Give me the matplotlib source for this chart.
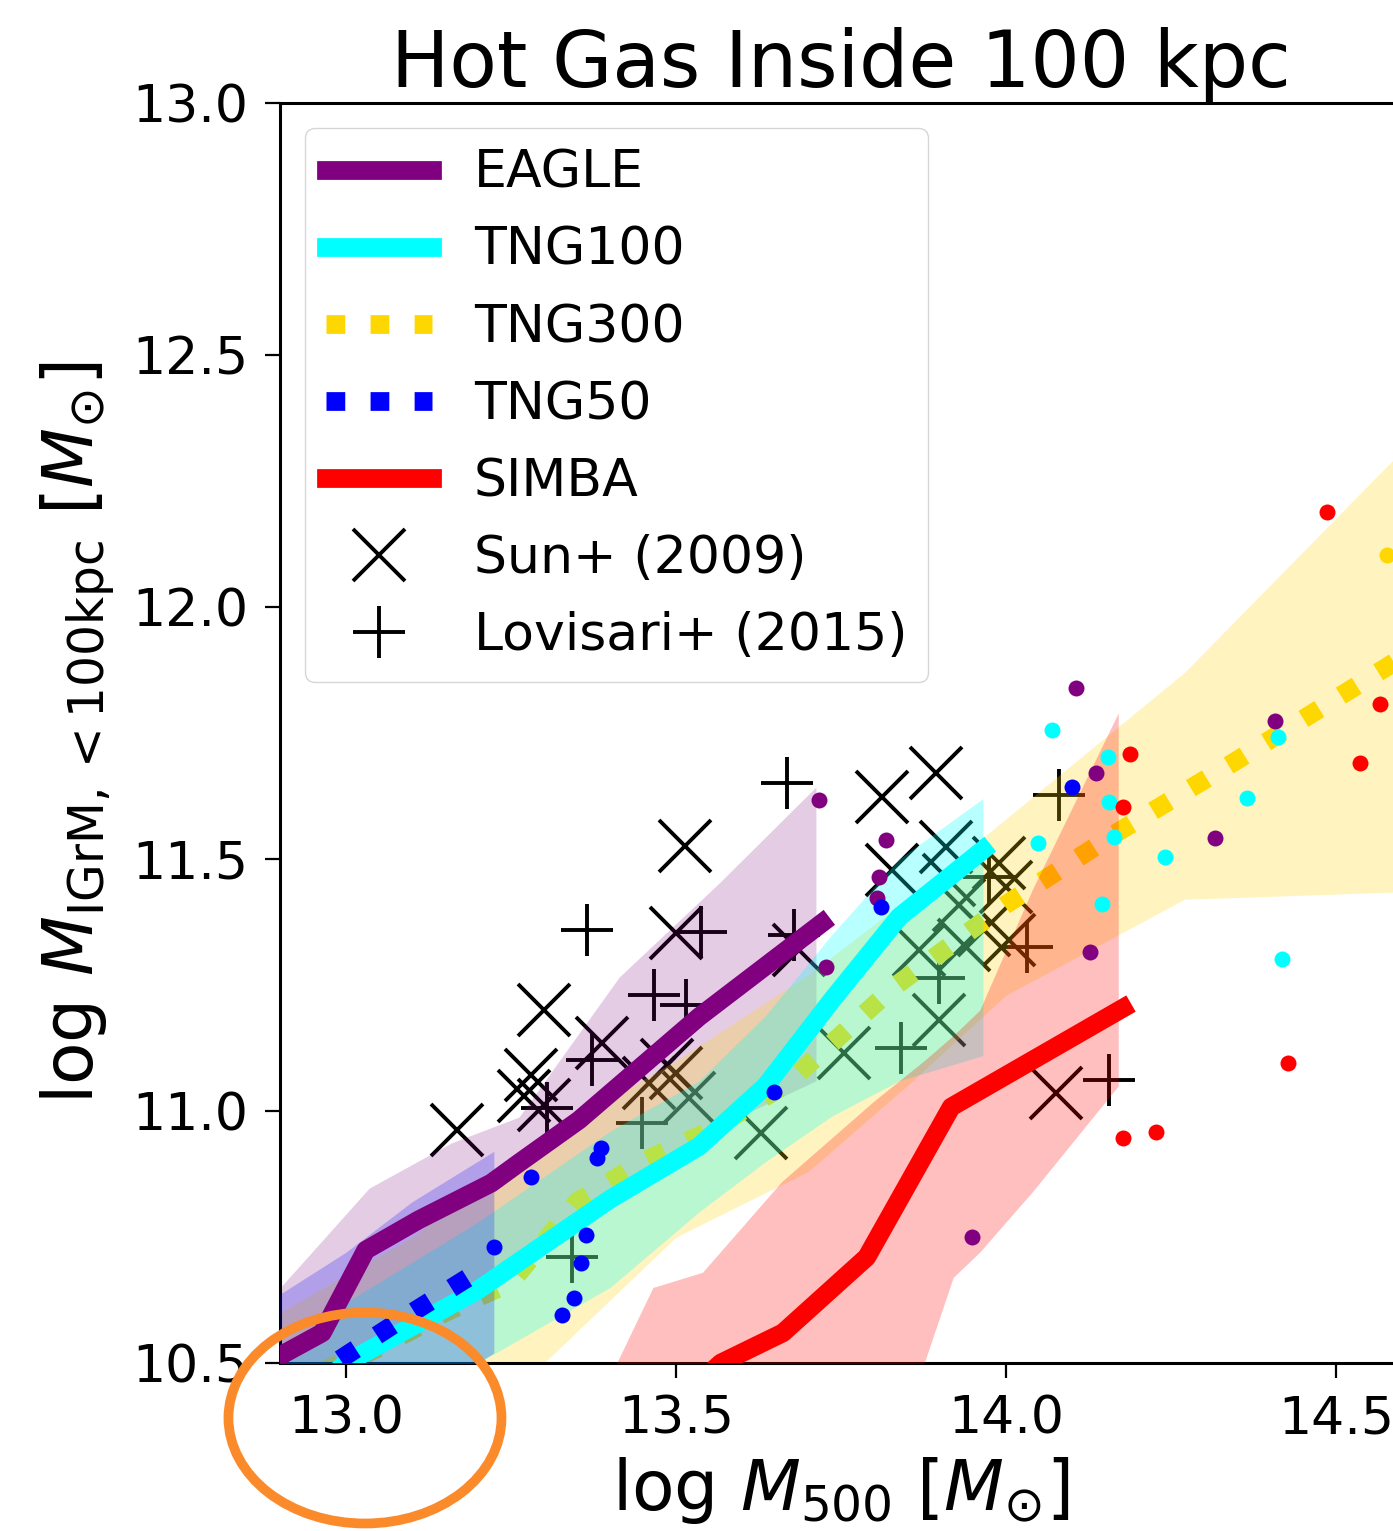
import matplotlib
matplotlib.use("Agg")
import matplotlib.pyplot as plt
from matplotlib.patches import Ellipse
from matplotlib.ticker import FormatStrFormatter

# ---- simulation medians (line) and 16-84 percentile bands ----
eagle_x = [12.88, 12.964, 13.03, 13.11, 13.22, 13.262, 13.353, 13.535, 13.721]
eagle_y = [10.5, 10.56, 10.724, 10.784, 10.857, 10.897, 10.982, 11.187, 11.373]
eagle_band_x = [12.88, 13.035, 13.16, 13.262, 13.414, 13.565, 13.712]
eagle_hi = [10.62, 10.847, 10.937, 10.988, 11.266, 11.452, 11.643]
eagle_lo = [10.3, 10.5, 10.62, 10.7, 10.84, 10.97, 11.06]

tng100_x = [12.88, 13.0, 13.2, 13.4, 13.535, 13.636, 13.736, 13.838, 13.965]
tng100_y = [10.36, 10.5, 10.645, 10.825, 10.93, 11.05, 11.22, 11.385, 11.518]
tng100_hi = [10.5, 10.62, 10.78, 10.96, 11.06, 11.19, 11.35, 11.5, 11.62]
tng100_lo = [10.2, 10.28, 10.5, 10.65, 10.8, 10.9, 10.99, 11.06, 11.11]

tng300_x = [12.9, 13.05, 13.15, 13.25, 13.35, 13.45, 13.55, 13.67, 13.83, 14.0, 14.17, 14.35, 14.6]
tng300_y = [10.45, 10.53, 10.6, 10.66, 10.82, 10.9, 10.96, 11.056, 11.246, 11.41, 11.554, 11.696, 11.9]
tng300_band_x = [12.9, 13.1, 13.3, 13.5, 13.7, 13.85, 14.0, 14.27, 14.6, 14.8]
tng300_hi = [10.6, 10.75, 10.95, 11.1, 11.27, 11.42, 11.58, 11.87, 12.31, 12.6]
tng300_lo = [10.2, 10.35, 10.5, 10.75, 10.88, 11.05, 11.23, 11.42, 11.435, 11.44]

tng50_x = [12.88, 13.0, 13.1, 13.21]
tng50_y = [10.41, 10.515, 10.6, 10.69]
tng50_band_x = [12.88, 13.0, 13.1, 13.224]
tng50_hi = [10.62, 10.72, 10.82, 10.92]
tng50_lo = [10.25, 10.33, 10.42, 10.52]

simba_x = [13.5, 13.568, 13.662, 13.789, 13.917, 14.177]
simba_y = [10.42, 10.5, 10.56, 10.71, 11.008, 11.204]
simba_band_x = [13.35, 13.41, 13.465, 13.54, 13.66, 13.80, 13.876, 13.92, 13.96, 14.04, 14.17]
simba_hi = [10.35, 10.5, 10.65, 10.68, 10.86, 11.02, 11.1, 11.15, 11.2, 11.44, 11.79]
simba_lo = [9.9, 10.0, 10.1, 10.2, 10.3, 10.42, 10.5, 10.67, 10.72, 10.84, 11.05]

# ---- individual haloes above the last full bin ----
eagle_pts_x = [13.717, 13.818, 13.808, 13.805, 13.727, 14.106, 14.136, 14.408, 14.317, 14.127, 13.948]
eagle_pts_y = [11.617, 11.538, 11.464, 11.423, 11.286, 11.839, 11.671, 11.774, 11.542, 11.315, 10.75]
tng100_pts_x = [14.070, 14.155, 14.156, 14.048, 14.164, 14.241, 14.145, 14.365, 14.412, 14.418]
tng100_pts_y = [11.756, 11.702, 11.613, 11.532, 11.544, 11.504, 11.411, 11.621, 11.742, 11.302]
simba_pts_x = [14.486, 14.188, 14.177, 14.567, 14.536, 14.427, 14.177, 14.227]
simba_pts_y = [12.188, 11.708, 11.603, 11.808, 11.690, 11.095, 10.946, 10.958]
tng300_pts_x = [14.577]
tng300_pts_y = [12.103]
tng50_pts_x = [13.224, 13.280, 13.386, 13.380, 13.364, 13.356, 13.345, 13.327, 13.648, 13.811, 14.100]
tng50_pts_y = [10.730, 10.869, 10.927, 10.907, 10.754, 10.698, 10.629, 10.595, 11.038, 11.405, 11.643]

# ---- observations ----
sun_x = [13.168, 13.300, 13.280, 13.300, 13.514, 13.500, 13.388, 13.459, 13.486, 13.520,
         13.629, 13.686, 13.812, 13.894, 13.827, 13.909, 13.914, 13.989, 14.000, 13.898,
         13.755, 14.076, 13.936, 13.868, 13.929, 13.967, 14.005, 13.270, 13.500]
sun_y = [10.962, 11.200, 11.071, 11.012, 11.526, 11.353, 11.135, 11.056, 11.091, 11.026,
         10.956, 11.319, 11.623, 11.671, 11.478, 11.524, 11.458, 11.492, 11.444, 11.181,
         11.115, 11.036, 11.329, 11.319, 11.409, 11.359, 11.339, 11.030, 11.075]
lov_x = [13.668, 13.365, 13.467, 13.515, 13.538, 13.373, 13.448, 13.679, 13.841, 13.898,
         14.080, 14.032, 14.156, 13.342, 13.974, 13.305]
lov_y = [11.651, 11.359, 11.230, 11.210, 11.355, 11.101, 10.976, 11.349, 11.125, 11.264,
         11.627, 11.325, 11.062, 10.710, 11.464, 11.006]

plt.rcParams.update({"font.size": 37.5, "axes.linewidth": 2.2,
    "xtick.major.size": 10.5, "ytick.major.size": 10.5,
    "xtick.major.width": 1.6, "ytick.major.width": 1.6,
    "xtick.major.pad": 12, "ytick.major.pad": 12,
    "xtick.labelsize": 37.5, "ytick.labelsize": 37.5})

fig = plt.figure(figsize=(13.93, 15.31), dpi=100)
ax = fig.add_axes([0.2010, 0.1097, 0.8055, 0.8230])

LW = 13.5
DOT = dict(ls="none", marker="o", ms=11.5, mew=0, zorder=6)

# observations sit underneath the translucent bands
ax.plot(sun_x, sun_y, ls="none", marker="x", ms=37, mew=2.8, color="k", zorder=1,
        label="Sun+ (2009)")
ax.plot(lov_x, lov_y, ls="none", marker="+", ms=37, mew=2.8, color="k", zorder=1,
        label="Lovisari+ (2015)")

ax.fill_between(eagle_band_x, eagle_lo, eagle_hi, color="purple", alpha=0.2, lw=0, zorder=2)
ax.fill_between(tng300_band_x, tng300_lo, tng300_hi, color="gold", alpha=0.25, lw=0, zorder=2)
ax.plot(tng300_x, tng300_y, color="gold", lw=LW, dashes=(1, 1.35), zorder=2.5, label="TNG300")
ax.fill_between(tng100_x, tng100_lo, tng100_hi, color="cyan", alpha=0.28, lw=0, zorder=3)
ax.fill_between(tng50_band_x, tng50_lo, tng50_hi, color="blue", alpha=0.22, lw=0, zorder=3)
ax.fill_between(simba_band_x, simba_lo, simba_hi, color="red", alpha=0.25, lw=0, zorder=3)

ax.plot(eagle_x, eagle_y, color="purple", lw=LW, zorder=4, label="EAGLE")
ax.plot(tng100_x, tng100_y, color="cyan", lw=LW, zorder=4, label="TNG100")
ax.plot(tng50_x, tng50_y, color="blue", lw=LW, dashes=(1, 1.35), zorder=4, label="TNG50")
ax.plot(simba_x, simba_y, color="red", lw=LW, zorder=4, label="SIMBA")

ax.plot(eagle_pts_x, eagle_pts_y, color="purple", **DOT)
ax.plot(tng100_pts_x, tng100_pts_y, color="cyan", **DOT)
ax.plot(simba_pts_x, simba_pts_y, color="red", **DOT)
ax.plot(tng300_pts_x, tng300_pts_y, color="gold", **DOT)
ax.plot(tng50_pts_x, tng50_pts_y, color="blue", **DOT)

ax.set_xlim(12.9, 14.6)
ax.set_ylim(10.5, 13.0)
ax.set_xticks([13.0, 13.5, 14.0, 14.5])
ax.set_yticks([10.5, 11.0, 11.5, 12.0, 12.5, 13.0])
ax.xaxis.set_major_formatter(FormatStrFormatter("%.1f"))
ax.yaxis.set_major_formatter(FormatStrFormatter("%.1f"))
ax.set_xlabel(r"log $M_{500}$ [$M_{\odot}$]", fontsize=50, labelpad=8)
ax.set_ylabel(r"log $M_{\rm IGrM,<100kpc}$ [$M_{\odot}$]", fontsize=50, labelpad=11)
ax.set_title("Hot Gas Inside 100 kpc", fontsize=56, pad=8)

h, l = ax.get_legend_handles_labels()
order = ["EAGLE", "TNG100", "TNG300", "TNG50", "SIMBA", "Sun+ (2009)", "Lovisari+ (2015)"]
hd = dict(zip(l, h))
ax.legend([hd[k] for k in order], order, loc="upper left", fontsize=37.5,
          handlelength=2.03, handletextpad=0.81, labelspacing=0.52, borderaxespad=0.48)

# highlight around the low-mass end
fig.add_artist(Ellipse((0.262, 0.0738), 0.196, 0.1378, transform=fig.transFigure,
                       fill=False, ec="#fb8a2a", lw=7, zorder=10))

fig.savefig("out.png")
